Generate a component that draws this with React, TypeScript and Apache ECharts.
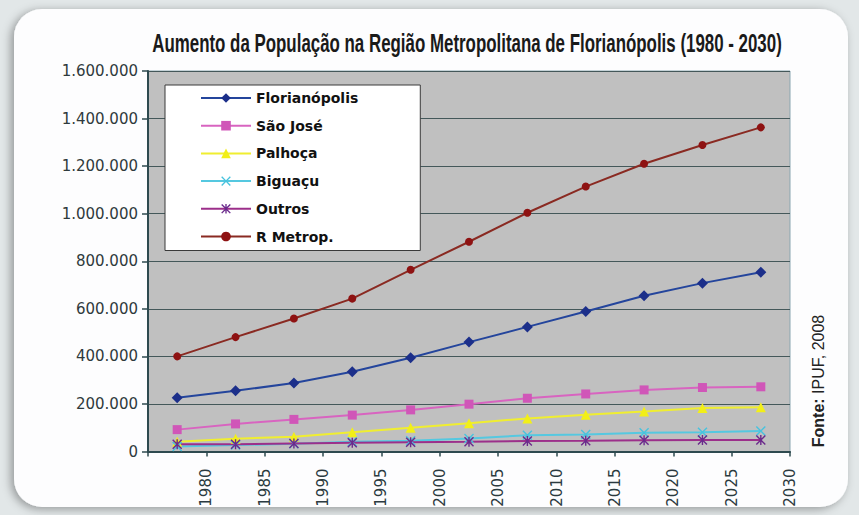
import React, { useEffect, useRef } from 'react';
import * as echarts from 'echarts';

const titleText = 'Aumento da População na Região Metropolitana de Florianópolis (1980 - 2030)';
const sourceBold = 'Fonte:';
const sourceRest = ' IPUF, 2008';

const categories = ['1980', '1985', '1990', '1995', '2000', '2005', '2010', '2015', '2020', '2025', '2030'];
const xTickLabels = ['1980', '1985', '1990', '1995', '2000', '2005', '2010', '2015', '2020', '2025', '2030'];
const yTickLabels = ['0', '200.000', '400.000', '600.000', '800.000', '1.000.000', '1.200.000', '1.400.000', '1.600.000'];

const seriesNames = ['Florianópolis', 'São José', 'Palhoça', 'Biguaçu', 'Outros', 'R Metrop.'];
const florianopolis = [226000, 255000, 288000, 335000, 394000, 460000, 524000, 589000, 655000, 708000, 754000];
const saoJose = [92000, 116000, 135000, 153000, 175000, 199000, 224000, 242000, 259000, 269000, 272000];
const palhoca = [41000, 54000, 62000, 81000, 100000, 119000, 139000, 155000, 168000, 183000, 186000];
const biguacu = [21000, 27000, 33000, 41000, 45000, 55000, 68000, 72000, 79000, 81000, 86000];
const outros = [30000, 31000, 34000, 37000, 39000, 41000, 44000, 45000, 47000, 48000, 48000];
const rMetrop = [400000, 481000, 559000, 643000, 764000, 882000, 1004000, 1114000, 1210000, 1289000, 1363000];

const X_MARK = 'path://M1,0L5,4L9,0L10,1L6,5L10,9L9,10L5,6L1,10L0,9L4,5L0,1Z';
const STAR_MARK = 'path://M1,0L5,4L9,0L10,1L6,5L10,9L9,10L5,6L1,10L0,9L4,5L0,1Z M4.3,0L5.7,0L5.7,10L4.3,10Z';

export default function App() {
  const ref = useRef<HTMLDivElement>(null);
  useEffect(() => {
    if (!ref.current) return;
    const chart = echarts.init(ref.current, undefined, { renderer: 'svg' });

    let titleScale = 0.65;
    try {
      const ctx = document.createElement('canvas').getContext('2d');
      if (ctx) {
        ctx.font = 'bold 26px "Liberation Sans"';
        const w = ctx.measureText(titleText).width;
        if (w > 0) titleScale = 630 / w;
      }
    } catch (e) {}

    const axisColor = '#2e4a4f';
    const mk = (name: string, data: number[], color: string, lineColor: string, symbol: string, size: number) => ({
      name,
      type: 'line',
      xAxisIndex: 0,
      yAxisIndex: 0,
      data,
      symbol,
      symbolSize: size,
      showAllSymbol: true,
      lineStyle: { color: lineColor, width: 2 },
      itemStyle: { color, borderColor: color, borderWidth: 0 },
    });

    chart.setOption({
      animation: false,
      backgroundColor: '#e2e7e8',
      graphic: [
        {
          type: 'rect',
          z: -100,
          silent: true,
          shape: { x: 14, y: 9, width: 834, height: 498, r: 28 },
          style: {
            fill: '#fdfdfe',
            shadowBlur: 10,
            shadowColor: 'rgba(0,0,0,0.35)',
            shadowOffsetX: -3,
            shadowOffsetY: 2,
          },
        },
        {
          type: 'text',
          x: 467,
          y: 43,
          scaleX: titleScale,
          style: {
            text: titleText,
            font: 'bold 26px "Liberation Sans"',
            fill: '#1a1a1a',
            align: 'center',
            verticalAlign: 'middle',
          },
        },
        {
          type: 'text',
          x: 818,
          y: 381,
          rotation: Math.PI / 2,
          style: {
            text: '{b|' + sourceBold + '}' + sourceRest,
            fontFamily: '"Liberation Sans", Arial, sans-serif',
            fontSize: 16,
            fill: '#222',
            align: 'center',
            verticalAlign: 'middle',
            rich: { b: { fontWeight: 'bold', fontSize: 16, fontFamily: '"Liberation Sans", Arial, sans-serif', fill: '#222' } },
          },
        },
      ],
      legend: {
        orient: 'vertical',
        left: 165,
        top: 85,
        itemWidth: 50,
        itemHeight: 12,
        itemGap: 13.7,
        padding: [6, 62, 7, 35],
        backgroundColor: '#ffffff',
        borderColor: '#3a3a3a',
        borderWidth: 1,
        data: seriesNames,
        textStyle: { fontFamily: '"DejaVu Sans", sans-serif', fontWeight: 'bold', fontSize: 14, color: '#111' },
      },
      grid: [
        { left: 148, top: 71, width: 642, height: 380.5, show: true, backgroundColor: '#c0c0c0', borderColor: '#8aa6b0', borderWidth: 1 },
        { left: 148, top: 450.5, width: 642, height: 1, show: false },
      ],
      xAxis: [
        {
          type: 'category',
          gridIndex: 0,
          data: categories,
          boundaryGap: true,
          axisLine: { lineStyle: { color: axisColor, width: 2 } },
          axisTick: { show: true, length: 5, lineStyle: { color: axisColor, width: 1.5 } },
          axisLabel: { show: false },
          splitLine: { show: false },
        },
        {
          type: 'value',
          gridIndex: 1,
          min: 0,
          max: 11,
          interval: 1,
          axisLine: { show: false },
          axisTick: { show: false },
          splitLine: { show: false },
          axisLabel: {
            rotate: 90,
            margin: 17,
            fontSize: 15,
            fontFamily: '"DejaVu Sans", sans-serif',
            color: '#2b3a40',
            formatter: (v: number) => (v >= 1 ? xTickLabels[Math.round(v) - 1] : ''),
          },
        },
      ],
      yAxis: [
        {
          type: 'value',
          gridIndex: 0,
          min: 0,
          max: 1600000,
          interval: 200000,
          axisLine: { show: true, lineStyle: { color: axisColor, width: 2 } },
          axisTick: { show: true, length: 6, lineStyle: { color: axisColor, width: 1.5 } },
          splitLine: { show: true, lineStyle: { color: '#44585a', width: 1.2 } },
          axisLabel: {
            margin: 10,
            fontSize: 15,
            fontFamily: '"DejaVu Sans", sans-serif',
            color: '#2f3a3c',
            formatter: (v: number) => yTickLabels[Math.round(v / 200000)] ?? '',
          },
        },
        { type: 'value', gridIndex: 1, show: false },
      ],
      series: [
        mk(seriesNames[0], florianopolis, '#1c2f8a', '#24459c', 'diamond', 11),
        mk(seriesNames[1], saoJose, '#d056b8', '#d864c0', 'rect', 9),
        mk(seriesNames[2], palhoca, '#f2ef18', '#f0ee30', 'triangle', 10),
        mk(seriesNames[3], biguacu, '#47c3de', '#55c8e0', X_MARK, 10),
        mk(seriesNames[4], outros, '#6b2a8c', '#9c2f8a', STAR_MARK, 10),
        mk(seriesNames[5], rMetrop, '#8e1212', '#8a2a22', 'circle', 8),
      ],
    });
    return () => chart.dispose();
  }, []);
  return <div ref={ref} style={{ position: 'absolute', left: 0, top: 0, width: 859, height: 515 }} />;
}
